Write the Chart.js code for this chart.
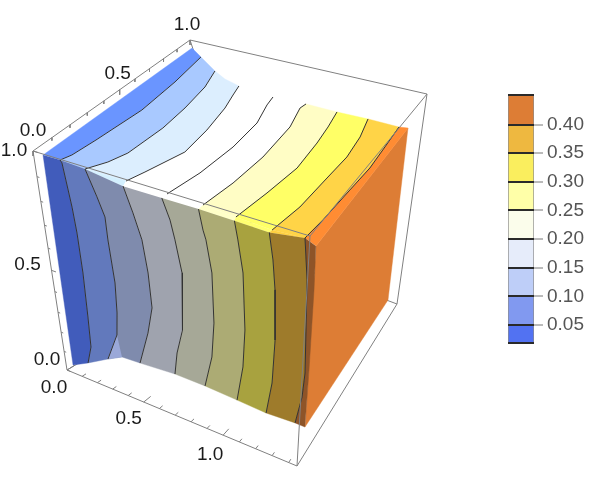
<!DOCTYPE html>
<html>
<head>
<meta charset="utf-8">
<script src="https://cdn.jsdelivr.net/npm/chart.js@4"></script>
<style>
body { margin: 0; background: #fff; }
#wrap { position: relative; width: 602px; height: 480px; overflow: hidden; }
canvas { position: absolute; }
</style>
</head>
<body>
<div id="wrap">
<canvas id="cube" width="602" height="480" style="left:0;top:0"></canvas>
<canvas id="bar" width="102" height="280" style="left:500px;top:80px"></canvas>
</div>
<script>
// contour lines on the top of the surface, front edge -> back edge
const topLineX = [
    [.148, .169, .186, .212, .192, .155],
    [.300, .357, .393, .409, .396, .366, .316],
    [.526, .559, .627, .612, .578, .544, .521],
    [.747, .786, .806, .797, .753, .740],
    [.932, .961, .975, .960, .918, .926],
    [1.102, 1.133, 1.159, 1.144, 1.126, 1.102],
    [1.281, 1.309, 1.316, 1.322, 1.304, 1.269],
    [1.426, 1.437, 1.446, 1.454, 1.445, 1.435]
];
const topLineY = [
    [.012, .056, .174, .426, .671, .906],
    [.006, .076, .154, .351, .512, .688, .823],
    [.009, .082, .249, .411, .579, .681, .755],
    [.008, .161, .353, .536, .671, .736],
    [.008, .159, .343, .565, .706, .744],
    [.000, .159, .334, .509, .627, .741],
    [-.008, .138, .332, .473, .615, .745],
    [.002, .109, .296, .445, .592, .742]
];
// contour lines on the front of the surface, top edge -> bottom edge
const frontLineX = [
    [.160, .169, .195, .205, .210, .205, .199, .163],
    [.303, .355, .390, .393, .409, .402, .386, .307],
    [.513, .556, .595, .616, .624, .587, .520],
    [.722, .760, .781, .811, .808, .795, .758, .738],
    [.913, .933, .947, .974, .979, .963, .918],
    [1.093, 1.110, 1.136, 1.147, 1.137, 1.104],
    [1.262, 1.283, 1.297, 1.305, 1.296, 1.268],
    [1.428, 1.448, 1.464, 1.456, 1.427]
];
const frontLineZ = [
    [.997, .988, .820, .715, .542, .335, .184, .090],
    [.992, .896, .824, .731, .550, .411, .301, .156],
    [.971, .878, .780, .648, .497, .370, .203],
    [.972, .897, .825, .699, .570, .446, .327, .218],
    [.973, .899, .865, .741, .531, .372, .218],
    [.971, .904, .783, .550, .381, .211],
    [.968, .871, .759, .554, .358, .204],
    [.988, .838, .459, .346, .212]
];
// outline pieces of the surface
const topLeftX = [.048, .047];
const topLeftY = [.011, .962];
const topRightX = [1.478, 1.489];
const topRightY = [.750, -.018];
const topNotchX = [.414];
const topNotchY = [.781];
const frontLeftX = [.059, .051];
const frontLeftZ = [.996, .043];
const frontRightX = [1.479, 1.483, 1.483, 1.480];
const frontRightZ = [.971, .809, .478, .211];
const frontNotchX = [.404];
const frontNotchZ = [.197];
const rightFaceY = [0, 1, 1, 0];
const rightFaceZ = [1, 1, 0, 0];

const xMax = 1.45;
const xMinor = [0, .1, .2, .3, .4, .5, .6, .7, .8, .9, 1, 1.1, 1.2, 1.3, 1.4];
const unitMinor = [0, .1, .2, .3, .4, .5, .6, .7, .8, .9, 1];
const axisLabels = ["0.0", "0.5", "1.0"];
const axisValues = [0, .5, 1];

const topColors = ["#6a95ff", "#a9c9ff", "#dceefe", "#ffffff", "#ffffff", "#fffdc5", "#ffff66", "#ffd447", "#ff8c33"];
const frontColors = ["#415cbb", "#6279bc", "#7f8bad", "#9fa3ae", "#a6a897", "#acab74", "#a8a23f", "#9e7b2b", "#8e5428"];
const ridgeColors = ["#6a95ff", "#a4c4f4", "#d4f0ff", "#ffffff", "#ffffff", "#ffffc8", "#ffff70", "#ffd040"];
const rightColor = "#dd7d35";

// colour bar
const barLevels = [.05, .10, .15, .20, .25, .30, .35, .40];
const barBottom = .0186;
const barTop = .451;
const barColors = ["#5272f2", "#8199f0", "#becef8", "#e6ecfa", "#fbfdeb", "#ffffa8", "#faee5e", "#eeb840", "#dd7d35"];

// perspective of one face: unit square corners -> picture plane
function face_map(q) {
    const [a, b, c, d] = q;
    const dx1 = b[0] - d[0], dx2 = c[0] - d[0], sx = a[0] - b[0] - c[0] + d[0];
    const dy1 = b[1] - d[1], dy2 = c[1] - d[1], sy = a[1] - b[1] - c[1] + d[1];
    const den = dx1 * dy2 - dx2 * dy1;
    const g = (sx * dy2 - dx2 * sy) / den, h = (dx1 * sy - sx * dy1) / den;
    return function (u, v) {
        const w = g * u + h * v + 1;
        return {
            x: ((b[0] - a[0] + g * b[0]) * u + (c[0] - a[0] + h * c[0]) * v + a[0]) / w,
            y: ((b[1] - a[1] + g * b[1]) * u + (c[1] - a[1] + h * c[1]) * v + a[1]) / w
        };
    };
}

const box = {
    a: [33, 151], b: [310, 236], c: [190, 40], d: [427, 94],
    e: [67, 370], f: [297, 466], g: [261, 253], h: [397, 304]
};
const surfaceTop = face_map([[33, 154], [310, 240], [190, 43], [427, 97]]);
const boxFront = face_map([box.a, box.b, box.e, box.f]);
const boxTop = face_map([box.a, box.b, box.c, box.d]);
const boxBottom = face_map([box.e, box.f, box.g, box.h]);
const surfaceRight = face_map([[316, 246], [408, 128], [305, 427], [388, 300]]);

const on_top = (x, y) => surfaceTop(x / xMax, y);
const on_front = (x, z) => boxFront(x / xMax, 1 - z);
const on_right = (y, z) => surfaceRight(y, 1 - z);

function line_points(xs, ys, fn) {
    return xs.map((x, i) => fn(x, ys[i]));
}
function polygon(color, points) {
    return {data: points, showLine: true, fill: 'shape', backgroundColor: color, borderColor: color, borderWidth: 0.4, pointRadius: 0};
}
function stroke(color, width, points) {
    return {data: points, showLine: true, fill: false, borderColor: color, borderWidth: width, pointRadius: 0};
}
function edge(p) {
    return stroke("#808080", 1, p.map(c => ({x: c[0], y: c[1]})));
}

let top_lines = topLineX.map((xs, i) => line_points(xs, topLineY[i], on_top));
let front_lines = frontLineX.map((xs, i) => line_points(xs, frontLineZ[i], on_front));
let layers = [];

// back box edges go under the surface
[[box.e, box.g], [box.h, box.g], [box.c, box.g]].forEach(p => layers.push(edge(p)));

layers.push(polygon(rightColor, line_points(rightFaceY, rightFaceZ, on_right)));

// top bands
topColors.forEach((color, i) => {
    let pts;
    if (i === 0) {
        pts = line_points(topLeftX, topLeftY, on_top).concat(top_lines[0].slice().reverse());
    } else if (i === 8) {
        pts = top_lines[7].concat(line_points(topRightX, topRightY, on_top));
    } else if (i === 2) {
        pts = top_lines[1].concat(line_points(topNotchX, topNotchY, on_top), top_lines[2].slice().reverse());
    } else {
        pts = top_lines[i - 1].concat(top_lines[i].slice().reverse());
    }
    layers.push(polygon(color, pts));
});

// strip along the rounded edge between top and front
ridgeColors.forEach((color, i) => {
    if (i === 0) {
        return;
    }
    layers.push(polygon(color, [top_lines[i - 1][0], top_lines[i][0], front_lines[i][0], front_lines[i - 1][0]]));
});

// front bands
frontColors.forEach((color, i) => {
    let pts;
    if (i === 0) {
        pts = line_points(frontLeftX, frontLeftZ, on_front).concat(front_lines[0].slice().reverse());
    } else if (i === 8) {
        pts = front_lines[7].concat(line_points(frontRightX, frontRightZ, on_front).reverse());
    } else if (i === 2) {
        pts = front_lines[1].concat(line_points(frontNotchX, frontNotchZ, on_front), front_lines[2].slice().reverse());
    } else {
        pts = front_lines[i - 1].concat(front_lines[i].slice().reverse());
    }
    layers.push(polygon(color, pts));
});
// light wedge at the foot of the second contour
layers.push(polygon("#9aa8d8", front_lines[1].slice(-2).concat(line_points(frontNotchX, frontNotchZ, on_front))));

top_lines.concat(front_lines).forEach(l => layers.push(stroke("#333333", 1, l)));

// front box edges stay visible over the surface
[[box.a, box.c], [box.c, box.d], [box.a, box.b], [box.b, box.d], [box.a, box.e], [box.b, box.f], [box.d, box.h], [box.e, box.f], [box.f, box.h]].forEach(p => layers.push(edge(p)));

// axis ticks, every 0.1, majors twice as long
const is_major = v => Math.abs(v * 2 - Math.round(v * 2)) < 1e-6;
xMinor.forEach(v => {
    const len = is_major(v) ? .025 : .012;
    layers.push(stroke("#808080", 1, [boxBottom(v / xMax, 0), boxBottom(v / xMax, len)]));
});
unitMinor.forEach(v => {
    const drop = is_major(v) ? 5 : 3;
    const side = is_major(v) ? .02 : .01;
    const p = boxTop(0, v);
    layers.push(stroke("#808080", 1, [p, {x: p.x, y: p.y + drop}]));
    layers.push(stroke("#808080", 1, [boxFront(0, 1 - v), boxFront(side, 1 - v)]));
});

// first dataset painted first
layers.forEach((d, i) => { d.order = layers.length - i; });

const xLabelOffset = [[-13, 18], [-15, 17], [-13, 20]];
const yLabelOffset = [[0, -20], [-2, -16], [-3, -15]];
const zLabelOffset = [[-20, -10], [-24, -6], [-19, 0]];

const axis_text = {
    id: 'axis_text',
    afterDatasetsDraw(chart) {
        const ctx = chart.ctx, sx = chart.scales.x, sy = chart.scales.y;
        ctx.save();
        ctx.font = "19px 'Liberation Sans'";
        ctx.fillStyle = "#1a1a1a";
        ctx.textAlign = "center";
        ctx.textBaseline = "middle";
        axisValues.forEach((v, i) => {
            const put = (p, off) => ctx.fillText(axisLabels[i], sx.getPixelForValue(p.x) + off[0], sy.getPixelForValue(p.y) + off[1]);
            put(boxBottom(v / xMax, 0), xLabelOffset[i]);
            put(boxTop(0, v), yLabelOffset[i]);
            put(boxFront(0, 1 - v), zLabelOffset[i]);
        });
        ctx.restore();
    }
};

new Chart(document.getElementById('cube'), {
    type: 'scatter',
    data: {datasets: layers},
    options: {
        responsive: false,
        animation: false,
        events: [],
        plugins: {legend: false, tooltip: false},
        scales: {
            x: {type: 'linear', min: 0, max: 602, display: false},
            y: {type: 'linear', min: 0, max: 480, reverse: true, display: false}
        }
    },
    plugins: [axis_text]
});

const bar_edges = [barBottom].concat(barLevels, [barTop]);
new Chart(document.getElementById('bar'), {
    type: 'bar',
    data: {
        labels: [""],
        datasets: barColors.map((c, i) => ({
            data: [[bar_edges[i], bar_edges[i + 1]]],
            backgroundColor: c,
            borderColor: "#8c8c8c",
            borderWidth: {left: 1, right: 1, top: 0, bottom: 0},
            borderSkipped: false,
            barPercentage: 1,
            categoryPercentage: 1,
            grouped: false
        }))
    },
    options: {
        responsive: false,
        animation: false,
        events: [],
        layout: {padding: {left: 8, top: 15, bottom: 17, right: 0}},
        plugins: {legend: false, tooltip: false},
        scales: {
            x: {display: false, grid: {display: false}},
            y: {
                position: 'right',
                min: barBottom,
                max: barTop,
                afterFit(scale) { scale.width = 68; },
                afterBuildTicks(scale) { scale.ticks = bar_edges.map(v => ({value: v})); },
                border: {display: false},
                grid: {
                    z: 1,
                    lineWidth: 2,
                    color: "#2a2a2a",
                    tickLength: 9,
                    tickWidth: 1,
                    tickColor: c => (c.index === 0 || c.index === bar_edges.length - 1) ? "rgba(0,0,0,0)" : "#777777"
                },
                ticks: {
                    autoSkip: false,
                    padding: 4,
                    color: "#555555",
                    font: {family: "'Liberation Sans'", size: 19},
                    callback: (v, i) => (i === 0 || i === bar_edges.length - 1) ? "" : v.toFixed(2)
                }
            }
        }
    }
});
</script>
</body>
</html>
